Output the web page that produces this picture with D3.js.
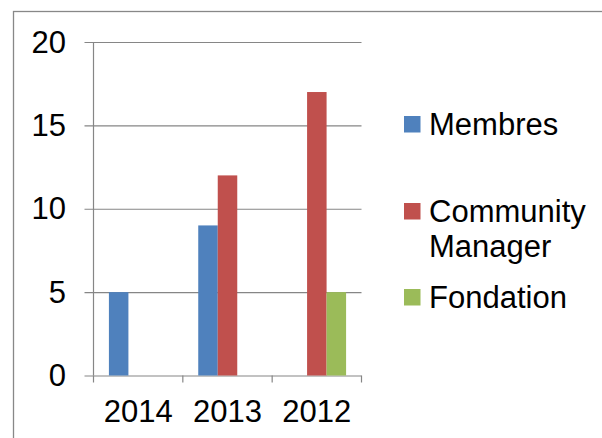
<!DOCTYPE html>
<html>
<head>
<meta charset="utf-8">
<script src="https://cdn.jsdelivr.net/npm/d3@7"></script>
<style>
  body { margin: 0; background: #fff; }
  text { font-family: "Liberation Sans", Arial, sans-serif; fill: #000; }
</style>
</head>
<body>
<div id="chart"></div>
<script>
const categories = ["2014", "2013", "2012"];
const seriesNames = ["Membres", "Community Manager", "Fondation"];
const membres = [5, 9, 0];
const communityManager = [0, 12, 17];
const fondation = [0, 0, 5];
const yTicks = [0, 5, 10, 15, 20];
const colors = ["#4F81BD", "#C0504D", "#9BBB59"];

const values = [membres, communityManager, fondation];
const width = 602;
const height = 438;
const fontSize = 31;
const plot = { left: 93.5, right: 361.5, top: 42, bottom: 375.5 };

const svg = d3.select("#chart")
  .append("svg")
  .attr("width", width)
  .attr("height", height);

// chart frame (runs off the right and bottom edges)
svg.append("rect")
  .attr("x", 13.5)
  .attr("y", 11.5)
  .attr("width", 700)
  .attr("height", 600)
  .attr("fill", "none")
  .attr("stroke", "#888")
  .attr("stroke-width", 1.3);

const xScale = d3.scaleBand()
  .domain(categories)
  .range([plot.left, plot.right]);
const groupWidth = xScale.bandwidth() * 0.655;
const xSub = d3.scaleBand()
  .domain(seriesNames)
  .range([0, groupWidth]);
const yScale = d3.scaleLinear()
  .domain([0, 20])
  .range([plot.bottom, plot.top]);

// gridlines
const grid = svg.append("g")
  .attr("transform", `translate(${plot.left}, 0)`)
  .call(d3.axisLeft(yScale).tickValues(yTicks).tickSize(-(plot.right - plot.left)).tickFormat(""));
grid.select(".domain").remove();
grid.selectAll("line").attr("stroke", "#868686").attr("stroke-width", 1.2).attr("x2", plot.right - plot.left).attr("x1", -9);

// y labels
svg.append("g").selectAll("text")
  .data(yTicks)
  .join("text")
  .attr("x", 66)
  .attr("y", (d) => yScale(d) + 10.5)
  .attr("text-anchor", "end")
  .attr("font-size", fontSize)
  .text((d) => d);

// y axis line
svg.append("line")
  .attr("x1", plot.left).attr("x2", plot.left)
  .attr("y1", plot.top).attr("y2", plot.bottom)
  .attr("stroke", "#868686").attr("stroke-width", 1.2);

// x axis ticks at band boundaries
const boundaries = categories.map((c) => xScale(c)).concat([plot.right]);
svg.append("g").selectAll("line")
  .data(boundaries)
  .join("line")
  .attr("x1", (d) => d).attr("x2", (d) => d)
  .attr("y1", plot.bottom).attr("y2", plot.bottom + 7)
  .attr("stroke", "#868686").attr("stroke-width", 1.2);

svg.append("g").selectAll("text")
  .data(categories)
  .join("text")
  .attr("x", (d) => xScale(d) + xScale.bandwidth() / 2)
  .attr("y", 421.5)
  .attr("text-anchor", "middle")
  .attr("font-size", fontSize)
  .text((d) => d);

// bars
const rows = [];
categories.forEach((c, i) => {
  seriesNames.forEach((s, j) => {
    rows.push({ cat: c, series: s, value: values[j][i], color: colors[j] });
  });
});
const offset = (xScale.bandwidth() - groupWidth) / 2;
svg.append("g").selectAll("rect")
  .data(rows.filter((d) => d.value > 0))
  .join("rect")
  .attr("x", (d) => xScale(d.cat) + offset + xSub(d.series))
  .attr("y", (d) => yScale(d.value))
  .attr("width", xSub.bandwidth())
  .attr("height", (d) => yScale(0) - yScale(d.value))
  .attr("fill", (d) => d.color);

// legend
const legendItems = [
  { lines: ["Membres"], y: 135 },
  { lines: ["Community", "Manager"], y: 222 },
  { lines: ["Fondation"], y: 308 },
];
const legend = svg.append("g");
legendItems.forEach((item, i) => {
  legend.append("rect")
    .attr("x", 404)
    .attr("y", item.y - 19)
    .attr("width", 16.5)
    .attr("height", 16.5)
    .attr("fill", colors[i]);
  item.lines.forEach((ln, k) => {
    legend.append("text")
      .attr("x", 429)
      .attr("y", item.y + k * 35)
      .attr("font-size", fontSize)
      .text(ln);
  });
});
</script>
</body>
</html>
